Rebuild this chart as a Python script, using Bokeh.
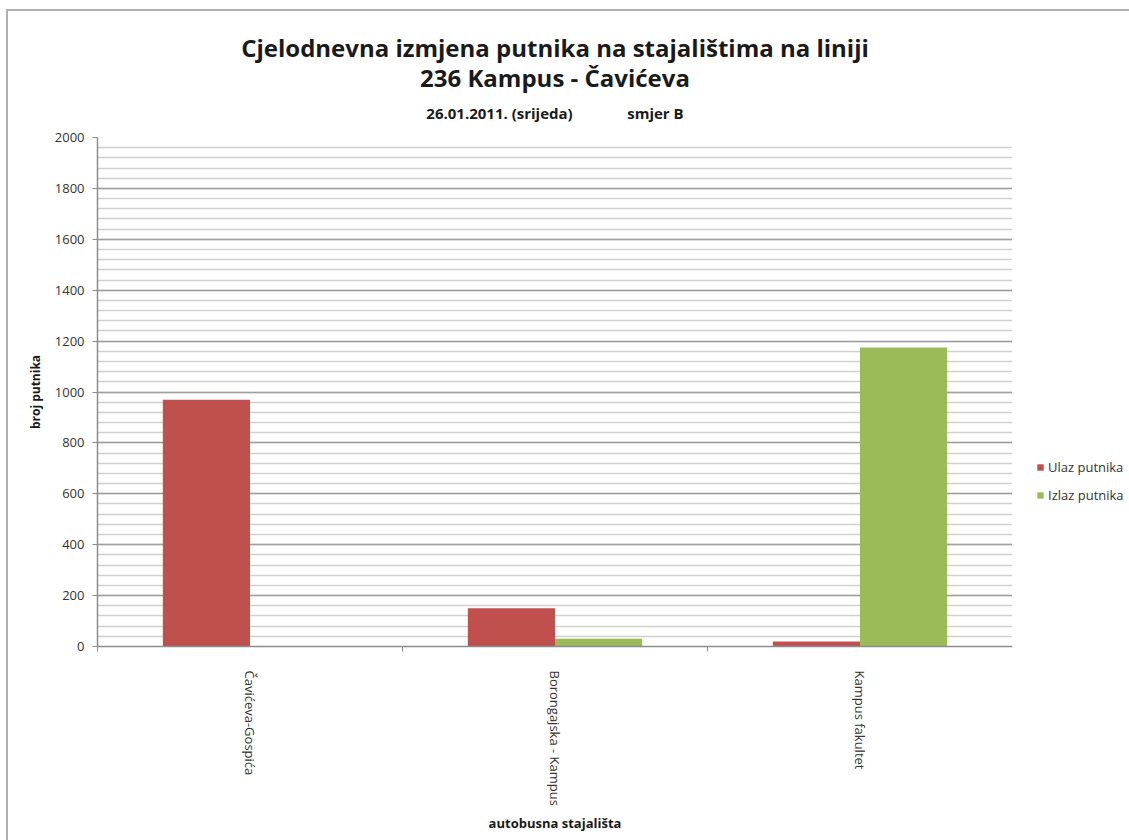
from bokeh.plotting import figure
from bokeh.models import (ColumnDataSource, FixedTicker, Legend, LegendItem,
                          Range1d, LinearAxis, Spacer)
from bokeh.layouts import row, column
from bokeh.transform import dodge
from bokeh.embed import file_html
from bokeh.resources import INLINE

# ---- data ----
stops = ["Čavićeva-Gospića", "Borongajska - Kampus", "Kampus fakultet"]
ulaz = [970, 150, 20]      # Ulaz putnika
izlaz = [0, 30, 1175]      # Izlaz putnika
y_ticks = [0, 200, 400, 600, 800, 1000, 1200, 1400, 1600, 1800, 2000]
y_minor = list(range(0, 2001, 40))

title1 = "Cjelodnevna izmjena putnika na stajalištima na liniji"
title2 = "236 Kampus - Čavićeva"
title3 = "26.01.2011. (srijeda)" + "\u00a0" * 14 + "smjer B"
x_label = "autobusna stajališta"
y_label = "broj putnika"
series_names = ["Ulaz putnika", "Izlaz putnika"]
colors = ["#C0504D", "#9BBB59"]

idx = list(range(len(stops)))
src = ColumnDataSource(dict(x=idx, ulaz=ulaz, izlaz=izlaz))

FONT = "Open Sans"
TXT = "#333333"
DARK = "#1a1a1a"
AX = "#8c8c8c"
BORDER = "#b0b0b0"

# ---- main chart ----
p = figure(width=1004, height=829, title=None, output_backend="svg",
           toolbar_location=None,
           x_range=Range1d(-0.5, len(stops) - 0.5),
           y_range=Range1d(0, 2000),
           min_border_left=89, min_border_right=0,
           min_border_top=126, min_border_bottom=194)
p.outline_line_color = None

bw = 1.0 / 3.5
r1 = p.vbar(x=dodge("x", -bw / 2, range=p.x_range), top="ulaz", width=bw,
            source=src, fill_color=colors[0], line_color=None)
r2 = p.vbar(x=dodge("x", bw / 2, range=p.x_range), top="izlaz", width=bw,
            source=src, fill_color=colors[1], line_color=None)

def text_axis(label, size, standoff, line_height=1.2):
    return LinearAxis(ticker=FixedTicker(ticks=[]), axis_label=label,
                      axis_line_color=None, major_tick_line_color=None,
                      minor_tick_line_color=None, major_tick_out=0, minor_tick_out=0,
                      axis_label_standoff=standoff, axis_label_text_font=FONT,
                      axis_label_text_font_size=size, axis_label_text_font_style="bold",
                      axis_label_text_color=DARK, axis_label_text_line_height=line_height)

# subtitle closest to plot, main title above it
p.add_layout(text_axis(title3, "15px", 15), "above")
p.add_layout(text_axis(title1 + "\n" + title2, "24px", 6, line_height=0.9), "above")

# x axis (bottom)
xa = p.below[0]
xa.ticker = FixedTicker(ticks=idx, minor_ticks=[i - 0.5 for i in range(len(stops) + 1)])
xa.major_label_overrides = {i: s for i, s in zip(idx, stops)}
xa.major_label_orientation = "vertical"
xa.major_label_text_font = FONT
xa.major_label_text_font_size = "13px"
xa.major_label_text_color = TXT
xa.major_label_standoff = 19
xa.major_tick_line_color = None
xa.major_tick_out = 0
xa.major_tick_in = 0
xa.minor_tick_line_color = AX
xa.minor_tick_out = 5
xa.minor_tick_in = 0
xa.axis_line_color = AX
xa.axis_line_width = 1.5
xa.axis_label = x_label
xa.axis_label_text_font = FONT
xa.axis_label_text_font_size = "13px"
xa.axis_label_text_font_style = "bold"
xa.axis_label_text_color = DARK
xa.axis_label_standoff = 5

# y axis
ya = p.left[0]
ya.ticker = FixedTicker(ticks=y_ticks, minor_ticks=y_minor)
ya.major_label_text_font = FONT
ya.major_label_text_font_size = "13px"
ya.major_label_text_color = TXT
ya.major_label_standoff = 8
ya.major_tick_line_color = AX
ya.major_tick_out = 5
ya.major_tick_in = 0
ya.minor_tick_line_color = None
ya.axis_line_color = AX
ya.axis_line_width = 1.5
ya.axis_label = y_label
ya.axis_label_text_font = FONT
ya.axis_label_text_font_size = "12px"
ya.axis_label_text_font_style = "bold"
ya.axis_label_text_color = DARK
ya.axis_label_standoff = 8

p.xgrid.grid_line_color = None
p.ygrid.grid_line_color = "#a0a0a0"
p.ygrid.grid_line_width = 1.5
p.ygrid.minor_grid_line_color = "#d0d0d0"
p.ygrid.minor_grid_line_width = 1.5

# ---- legend panel (its bars lie entirely outside its ranges; only the legend shows) ----
lg = figure(width=117, height=829, output_backend="svg", toolbar_location=None,
            x_axis_type=None, y_axis_type=None, min_border=0,
            x_range=Range1d(100, 101), y_range=Range1d(5000, 5001))
lg.outline_line_color = None
lg.grid.visible = False
l1 = lg.vbar(x="x", top="ulaz", width=bw, source=src, fill_color=colors[0], line_color=None)
l2 = lg.vbar(x="x", top="izlaz", width=bw, source=src, fill_color=colors[1], line_color=None)
legend = Legend(items=[LegendItem(label=series_names[0], renderers=[l1]),
                       LegendItem(label=series_names[1], renderers=[l2])],
                location=(24, 141), orientation="vertical",
                glyph_width=8, glyph_height=8, label_standoff=4,
                label_height=20, spacing=8, padding=0, margin=0,
                label_text_font=FONT, label_text_font_size="13px",
                label_text_color=TXT, border_line_color=None,
                background_fill_alpha=0)
lg.add_layout(legend, "center")

# ---- chart-area border (top and left edges) ----
left_strip = Spacer(width=2, height=831, styles={"background-color": BORDER})
top_strip = Spacer(width=1121, height=2, styles={"background-color": BORDER})

layout = column(Spacer(height=9, width=1129),
                row(Spacer(width=6, height=831), left_strip,
                    column(top_strip, row(p, lg, spacing=0), spacing=0), spacing=0),
                spacing=0)

open("out.html", "w").write(file_html(layout, INLINE))
